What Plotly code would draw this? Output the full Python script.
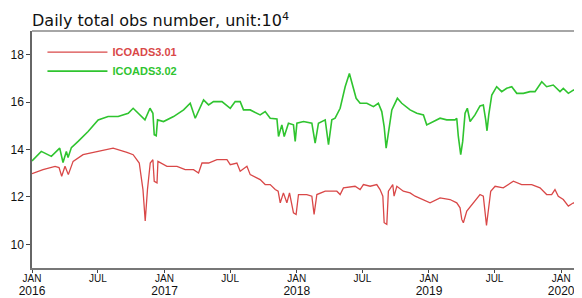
import pandas as pd
import plotly.graph_objects as go

# Fractional years and values (unit: 10^4 obs/day)
red_years = [2016.000, 2016.083, 2016.174, 2016.204, 2016.224, 2016.249, 2016.274, 2016.310,
             2016.385, 2016.489, 2016.612, 2016.716, 2016.763, 2016.809, 2016.837, 2016.854,
             2016.871, 2016.892, 2016.912, 2016.922, 2016.943, 2016.950, 2017.018, 2017.094,
             2017.156, 2017.219, 2017.257, 2017.283, 2017.333, 2017.396, 2017.472, 2017.497,
             2017.547, 2017.572, 2017.623, 2017.648, 2017.723, 2017.761, 2017.799, 2017.837,
             2017.859, 2017.875, 2017.899, 2017.925, 2017.945, 2017.975, 2017.995, 2018.013,
             2018.076, 2018.114, 2018.131, 2018.152, 2018.215, 2018.303, 2018.328, 2018.353,
             2018.441, 2018.479, 2018.504, 2018.555, 2018.605, 2018.630, 2018.651, 2018.661,
             2018.681, 2018.693, 2018.726, 2018.736, 2018.757, 2018.806, 2018.857, 2018.895,
             2018.958, 2019.008, 2019.084, 2019.159, 2019.210, 2019.235, 2019.248, 2019.260,
             2019.286, 2019.336, 2019.386, 2019.411, 2019.424, 2019.435, 2019.450, 2019.467,
             2019.500, 2019.562, 2019.638, 2019.701, 2019.777, 2019.840, 2019.890, 2019.928,
             2019.953, 2019.978, 2020.016, 2020.054, 2020.092, 2020.142]
red_values = [12.98, 13.15, 13.29, 13.24, 12.87, 13.29, 12.94, 13.50,
              13.78, 13.92, 14.06, 13.88, 13.78, 13.43, 12.31, 10.98,
              12.31, 13.43, 13.57, 12.66, 12.59, 13.50, 13.29, 13.29,
              13.15, 13.15, 13.01, 13.43, 13.43, 13.57, 13.57, 13.36,
              13.43, 13.08, 13.29, 12.94, 12.73, 12.52, 12.52, 12.31,
              12.24, 11.75, 12.17, 11.75, 12.17, 11.33, 11.26, 12.10,
              12.10, 12.03, 11.26, 12.10, 12.24, 12.24, 12.10, 12.38,
              12.45, 12.31, 12.52, 12.45, 12.52, 12.31, 12.03, 10.91,
              10.84, 12.24, 12.52, 12.03, 12.45, 12.24, 12.17, 12.03,
              11.89, 11.75, 11.96, 11.89, 11.75, 11.54, 11.05, 10.91,
              11.40, 11.75, 12.10, 12.03, 11.47, 10.80, 11.47, 12.24,
              12.45, 12.38, 12.66, 12.52, 12.52, 12.38, 12.10, 12.10,
              12.31, 12.03, 11.89, 11.61, 11.75, 11.68]

green_years = [2016.000, 2016.070, 2016.146, 2016.209, 2016.234, 2016.259, 2016.272, 2016.297,
               2016.348, 2016.423, 2016.499, 2016.574, 2016.650, 2016.726, 2016.763, 2016.801,
               2016.852, 2016.890, 2016.912, 2016.922, 2016.937, 2016.947, 2016.992, 2017.068,
               2017.144, 2017.194, 2017.232, 2017.295, 2017.333, 2017.370, 2017.434, 2017.497,
               2017.534, 2017.572, 2017.597, 2017.648, 2017.698, 2017.723, 2017.761, 2017.799,
               2017.850, 2017.862, 2017.887, 2017.905, 2017.937, 2017.975, 2017.988, 2018.001,
               2018.051, 2018.114, 2018.139, 2018.164, 2018.215, 2018.240, 2018.265, 2018.290,
               2018.328, 2018.366, 2018.398, 2018.424, 2018.449, 2018.479, 2018.530, 2018.580,
               2018.617, 2018.643, 2018.661, 2018.676, 2018.693, 2018.719, 2018.731, 2018.761,
               2018.794, 2018.857, 2018.908, 2018.958, 2018.983, 2019.033, 2019.084, 2019.134,
               2019.197, 2019.210, 2019.222, 2019.240, 2019.255, 2019.273, 2019.290, 2019.311,
               2019.348, 2019.386, 2019.411, 2019.429, 2019.439, 2019.452, 2019.475, 2019.512,
               2019.550, 2019.588, 2019.626, 2019.664, 2019.714, 2019.764, 2019.802, 2019.853,
               2019.890, 2019.940, 2019.991, 2020.016, 2020.054, 2020.092, 2020.142]
green_values = [13.52, 13.92, 13.71, 14.06, 13.45, 13.92, 13.66, 14.08,
                14.34, 14.76, 15.25, 15.39, 15.39, 15.53, 15.74, 15.53,
                15.25, 15.74, 15.53, 14.62, 14.58, 15.25, 15.18, 15.39,
                15.67, 15.95, 15.32, 16.09, 15.88, 16.02, 16.02, 15.74,
                16.02, 16.02, 15.67, 15.67, 15.53, 15.46, 15.60, 15.32,
                15.29, 14.55, 15.04, 14.55, 15.11, 15.04, 14.34, 15.11,
                15.18, 15.11, 14.27, 15.11, 15.25, 14.20, 15.25, 15.32,
                15.74, 16.65, 17.21, 16.72, 16.16, 15.95, 15.95, 15.81,
                15.95, 15.60, 14.97, 14.06, 14.69, 15.67, 15.81, 16.16,
                15.95, 15.67, 15.53, 15.46, 15.04, 15.18, 15.32, 15.25,
                15.25, 15.32, 14.55, 13.78, 14.34, 15.53, 15.74, 15.18,
                15.46, 15.84, 15.88, 15.25, 14.79, 15.46, 16.30, 16.65,
                16.44, 16.58, 16.65, 16.37, 16.37, 16.44, 16.44, 16.86,
                16.65, 16.72, 16.44, 16.58, 16.37, 16.51, 16.44]

tick_dates = ["2016-01-01", "2016-07-01", "2017-01-01", "2017-07-01", "2018-01-01",
              "2018-07-01", "2019-01-01", "2019-07-01", "2020-01-01"]
tick_month = ["JAN", "JUL", "JAN", "JUL", "JAN", "JUL", "JAN", "JUL", "JAN"]
tick_year = ["2016", "", "2017", "", "2018", "", "2019", "", "2020"]
y_ticks = [10, 12, 14, 16, 18]


def frac_to_date(years):
    out = []
    for y in years:
        yr = int(y)
        start = pd.Timestamp(year=yr, month=1, day=1)
        end = pd.Timestamp(year=yr + 1, month=1, day=1)
        out.append(start + (end - start) * (y - yr))
    return out


RED = "#d94848"
GREEN = "#2fc42f"

tick_text = []
for m, yv in zip(tick_month, tick_year):
    t = m
    if yv:
        t += "<br><span style='font-size:12px'>%s</span>" % yv
    tick_text.append(t)

# The page body has an 8px margin, so the figure is laid out 8px smaller
W, H = 574, 290

fig = go.Figure()
fig.add_trace(go.Scatter(
    x=frac_to_date(red_years), y=red_values, mode="lines",
    name="<b><span style='color:%s'>ICOADS3.01</span></b>" % RED,
    line=dict(color=RED, width=1.3)))
fig.add_trace(go.Scatter(
    x=frac_to_date(green_years), y=green_values, mode="lines",
    name="<b><span style='color:%s'>ICOADS3.02</span></b>" % GREEN,
    line=dict(color=GREEN, width=1.6)))

fig.update_layout(
    width=W, height=H,
    margin=dict(l=24, r=0, t=23, b=30, autoexpand=False),
    paper_bgcolor="white", plot_bgcolor="white",
    font=dict(family="DejaVu Sans", size=12, color="#222"),
    showlegend=True,
    legend=dict(x=0.019, y=0.972, xanchor="left", yanchor="top",
                bgcolor="rgba(0,0,0,0)", font=dict(size=11, family="Liberation Sans"),
                itemwidth=60, tracegroupgap=0),
    title=dict(text="Daily total obs number, unit:10<sup>4</sup>",
               x=24 / W, xanchor="left", y=0.975, yanchor="top",
               font=dict(size=16, color="#111", family="DejaVu Sans")),
)
fig.update_xaxes(
    range=[frac_to_date([2016.0])[0], frac_to_date([2020.157])[0]],
    tickvals=tick_dates, ticktext=tick_text, automargin=False,
    ticks="outside", ticklen=3, tickcolor="#444", ticklabelstandoff=-3,
    showgrid=False, zeroline=False,
    showline=True, linecolor="#777", linewidth=2,
    tickfont=dict(size=10, family="Liberation Sans", color="#111"),
)
fig.update_yaxes(
    range=[9, 19], tickvals=y_ticks, automargin=False,
    ticks="outside", ticklen=4, tickcolor="#444",
    showgrid=False, zeroline=False,
    showline=True, linecolor="#666", linewidth=1.5,
    tickfont=dict(size=12, family="Liberation Sans", color="#111"),
)
# top frame line
fig.add_shape(type="line", xref="paper", yref="paper", x0=0, x1=1, y0=1, y1=1,
              line=dict(color="#888", width=1.5))

fig.write_html("out.html")
